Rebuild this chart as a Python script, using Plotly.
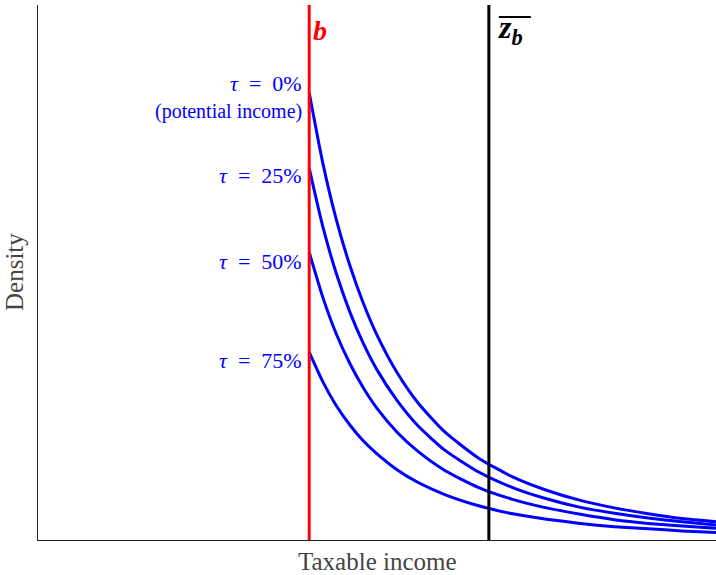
import plotly.graph_objects as go

# ---- data ----
b_value = 4.0
zb_value = 6.65

tau_labels = ["τ = 0%", "τ = 25%", "τ = 50%", "τ = 75%"]

income_x = [4.0, 4.2, 4.4, 4.6, 4.8, 5.0, 5.3, 5.6, 6.0, 6.5, 7.0, 7.5, 8.0, 8.5, 9.0, 9.5, 10.0]

tau0_y = [8.36, 7.05, 5.99, 5.13, 4.42, 3.83, 3.12, 2.57, 2.02, 1.53, 1.18, 0.93, 0.74, 0.60, 0.49, 0.40, 0.34]
tau25_y = [6.95, 5.86, 4.98, 4.26, 3.67, 3.18, 2.60, 2.14, 1.68, 1.27, 0.98, 0.77, 0.61, 0.50, 0.41, 0.34, 0.28]
tau50_y = [5.38, 4.54, 3.85, 3.30, 2.84, 2.46, 2.01, 1.66, 1.30, 0.98, 0.76, 0.60, 0.48, 0.38, 0.31, 0.26, 0.22]
tau75_y = [3.51, 2.96, 2.51, 2.15, 1.85, 1.61, 1.31, 1.08, 0.85, 0.64, 0.49, 0.39, 0.31, 0.25, 0.21, 0.17, 0.14]

curves = [tau0_y, tau25_y, tau50_y, tau75_y]

SERIF = "Liberation Serif"
BLUE = "#0000ff"

fig = go.Figure()
for ys, lab in zip(curves, tau_labels):
    fig.add_trace(go.Scatter(x=income_x, y=ys, mode="lines", name=lab,
                             line=dict(color=BLUE, width=3, shape="spline", smoothing=0.6),
                             hoverinfo="skip", showlegend=False))

# vertical lines
fig.add_shape(type="line", xref="x", yref="paper", x0=b_value, x1=b_value, y0=0, y1=1,
              line=dict(color="#ff0000", width=3))
fig.add_shape(type="line", xref="x", yref="paper", x0=zb_value, x1=zb_value, y0=0, y1=1,
              line=dict(color="#000000", width=3))
# overline for z_b
fig.add_shape(type="line", xref="x", yref="paper", xsizemode="pixel", ysizemode="pixel",
              xanchor=zb_value, yanchor=1, x0=10, x1=42, y0=-12, y1=-12,
              line=dict(color="#000000", width=2))

ann = []
ann.append(dict(x=b_value, y=1, xref="x", yref="paper", xanchor="left", yanchor="top",
                xshift=2, yshift=-8, showarrow=False,
                text="<b><i>b</i></b>", font=dict(family=SERIF, size=28, color="#ff0000")))
ann.append(dict(x=zb_value, y=1, xref="x", yref="paper", xanchor="left", yanchor="top",
                xshift=7, yshift=-2, showarrow=False,
                text="<b><i>z</i></b><sub><b><i>b</i></b></sub>",
                font=dict(family=SERIF, size=32, color="#000000")))

label_shift = [9, -7, -9, -8]
for ys, lab, sh in zip(curves, tau_labels, label_shift):
    ann.append(dict(x=b_value, y=ys[0], xref="x", yref="y", xanchor="right", yanchor="middle",
                    xshift=-5, yshift=sh, showarrow=False,
                    text=lab.replace("τ", "<i>τ</i>").replace(" = ", "\u2002=\u2002"),
                    font=dict(family=SERIF, size=22, color=BLUE)))
ann.append(dict(x=b_value, y=tau0_y[0], xref="x", yref="y", xanchor="right", yanchor="middle",
                xshift=-5, yshift=-19, showarrow=False,
                text="(potential income)", font=dict(family=SERIF, size=20, color=BLUE)))

ann.append(dict(x=0.5, y=0, xref="paper", yref="paper", xanchor="center", yanchor="top",
                yshift=-6, showarrow=False, text="Taxable income",
                font=dict(family=SERIF, size=25, color="#444444")))
ann.append(dict(x=0, y=0.5, xref="paper", yref="paper", xanchor="right", yanchor="middle",
                xshift=-8, showarrow=False, text="Density", textangle=-90,
                font=dict(family=SERIF, size=25, color="#444444")))

fig.update_layout(
    width=716, height=575,
    margin=dict(l=38, r=0, t=5, b=35),
    plot_bgcolor="white", paper_bgcolor="white",
    annotations=ann,
    xaxis=dict(range=[0, 10], showgrid=False, zeroline=False, showticklabels=False,
               ticks="", showline=True, linecolor="#222222", linewidth=1),
    yaxis=dict(range=[0, 10], showgrid=False, zeroline=False, showticklabels=False,
               ticks="", showline=True, linecolor="#222222", linewidth=1),
)

fig.write_html("out.html", config={"displayModeBar": False},
               post_script="document.body.style.margin='0px';")
